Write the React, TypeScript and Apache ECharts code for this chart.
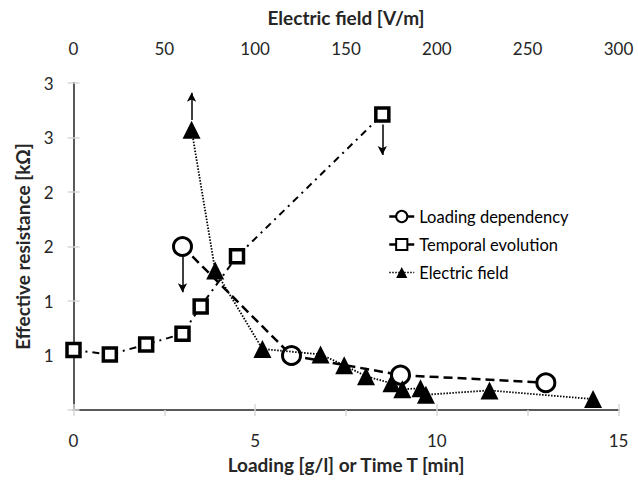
import React, { useEffect, useRef } from "react";
import * as echarts from "echarts";

// ---- Data ----
const loadingX = [3, 6, 9, 13];
const loadingY = [1.5, 0.5, 0.32, 0.25];

const temporalX = [0, 1, 2, 3, 3.5, 4.5, 8.5];
const temporalY = [0.55, 0.51, 0.6, 0.7, 0.95, 1.41, 2.71];

const fieldX = [65, 78, 104, 136, 149, 161, 175, 181, 191, 194, 229, 286];
const fieldY = [2.57, 1.28, 0.56, 0.51, 0.41, 0.31, 0.245, 0.19, 0.2, 0.14, 0.18, 0.1];

// arrows: [x, yStart, yEnd]
const loadingArrow = [3, 1.41, 1.08];
const temporalArrow = [8.5, 2.62, 2.34];
const fieldArrow = [65, 2.66, 2.91];

const yTickLabels = ["", "1", "1", "2", "2", "3", "3"];
const seriesNames = ["Loading dependency", "Temporal evolution", "Electric field"];

const FONT = "Lato";
const frameColor = "#595959";
const tickColor = "#d9d9d9";
const labelColor = "#262626";

function arrowLine(a: number[]) {
  return {
    silent: true,
    symbol: ["none", "arrow"],
    symbolSize: [7, 9],
    label: { show: false },
    lineStyle: { color: "#000", width: 1.5, type: "solid" },
    data: [[{ coord: [a[0], a[1]] }, { coord: [a[0], a[2]] }]],
  };
}

export default function App() {
  const ref = useRef<HTMLDivElement>(null);
  useEffect(() => {
    if (!ref.current) return;
    const chart = echarts.init(ref.current, undefined, { renderer: "svg" });
    const axisLine = { show: true, lineStyle: { color: frameColor, width: 2 } };
    const axisTick = { show: true, inside: true, length: 6, lineStyle: { color: tickColor, width: 1.5 } };
    chart.setOption({
      animation: false,
      backgroundColor: "#fff",
      textStyle: { fontFamily: FONT },
      grid: { left: 73.5, right: 19.5, top: 83, bottom: 71, containLabel: false },
      legend: {
        orient: "vertical",
        left: 383,
        top: 203,
        itemWidth: 25,
        itemHeight: 14,
        itemGap: 11,
        textStyle: { fontFamily: FONT, fontSize: 16.5, color: "#000" },
        data: [
          { name: seriesNames[0], lineStyle: { type: "solid", width: 2.5 } },
          { name: seriesNames[1], lineStyle: { type: "solid", width: 2.5 } },
          { name: seriesNames[2], lineStyle: { type: [1.5, 1.5], width: 1.5 } },
        ],
      },
      xAxis: [
        {
          type: "value",
          position: "bottom",
          min: 0,
          max: 15,
          interval: 5,
          axisLine,
          axisTick,
          splitLine: { show: false },
          axisLabel: { fontFamily: FONT, fontSize: 17, color: labelColor, margin: 22 },
          name: "Loading [g/l] or Time T [min]",
          nameLocation: "middle",
          nameGap: 45,
          nameTextStyle: { fontFamily: FONT, fontSize: 19, fontWeight: "bold", color: labelColor },
        },
        {
          type: "value",
          position: "top",
          min: 0,
          max: 300,
          interval: 50,
          axisLine,
          axisTick,
          splitLine: { show: false },
          axisLabel: { fontFamily: FONT, fontSize: 17, color: labelColor, margin: 26 },
          name: "Electric field [V/m]",
          nameLocation: "middle",
          nameGap: 56,
          nameTextStyle: { fontFamily: FONT, fontSize: 19, fontWeight: "bold", color: labelColor },
        },
      ],
      yAxis: [
        {
          type: "value",
          position: "left",
          min: 0,
          max: 3,
          interval: 0.5,
          axisLine,
          axisTick,
          splitLine: { show: false },
          axisLabel: {
            fontFamily: FONT,
            fontSize: 17,
            color: labelColor,
            margin: 20,
            formatter: (v: number) => yTickLabels[Math.round(v / 0.5)] ?? "",
          },
          name: "Effective resistance [kΩ]",
          nameLocation: "middle",
          nameGap: 42,
          nameTextStyle: { fontFamily: FONT, fontSize: 19, fontWeight: "bold", color: labelColor },
        },
        {
          type: "value",
          position: "right",
          min: 0,
          max: 3,
          interval: 0.5,
          axisLine,
          axisTick,
          splitLine: { show: false },
          axisLabel: { show: false },
        },
      ],
      series: [
        {
          name: seriesNames[0],
          type: "line",
          xAxisIndex: 0,
          yAxisIndex: 0,
          data: loadingX.map((x, i) => [x, loadingY[i]]),
          symbol: "circle",
          symbolSize: 18,
          itemStyle: { color: "#fff", borderColor: "#000", borderWidth: 3 },
          lineStyle: { color: "#000", width: 2.5, type: [9, 5] },
          markLine: arrowLine(loadingArrow),
          z: 3,
        },
        {
          name: seriesNames[1],
          type: "line",
          xAxisIndex: 0,
          yAxisIndex: 0,
          data: temporalX.map((x, i) => [x, temporalY[i]]),
          symbol: "rect",
          symbolSize: 13,
          itemStyle: { color: "#fff", borderColor: "#000", borderWidth: 3.5 },
          lineStyle: { color: "#000", width: 2, type: [7, 5, 2, 5] },
          markLine: arrowLine(temporalArrow),
          z: 3,
        },
        {
          name: seriesNames[2],
          type: "line",
          xAxisIndex: 1,
          yAxisIndex: 0,
          data: fieldX.map((x, i) => [x, fieldY[i]]),
          symbol: "triangle",
          symbolSize: [18, 18],
          itemStyle: { color: "#000", borderColor: "#000", borderWidth: 0 },
          lineStyle: { color: "#000", width: 1.8, type: [1.5, 1.5] },
          markLine: arrowLine(fieldArrow),
          z: 4,
        },
      ],
    });
    return () => chart.dispose();
  }, []);
  return (
    <div
      ref={ref}
      style={{ position: "absolute", left: 0, top: 0, width: 638, height: 481 }}
    />
  );
}
